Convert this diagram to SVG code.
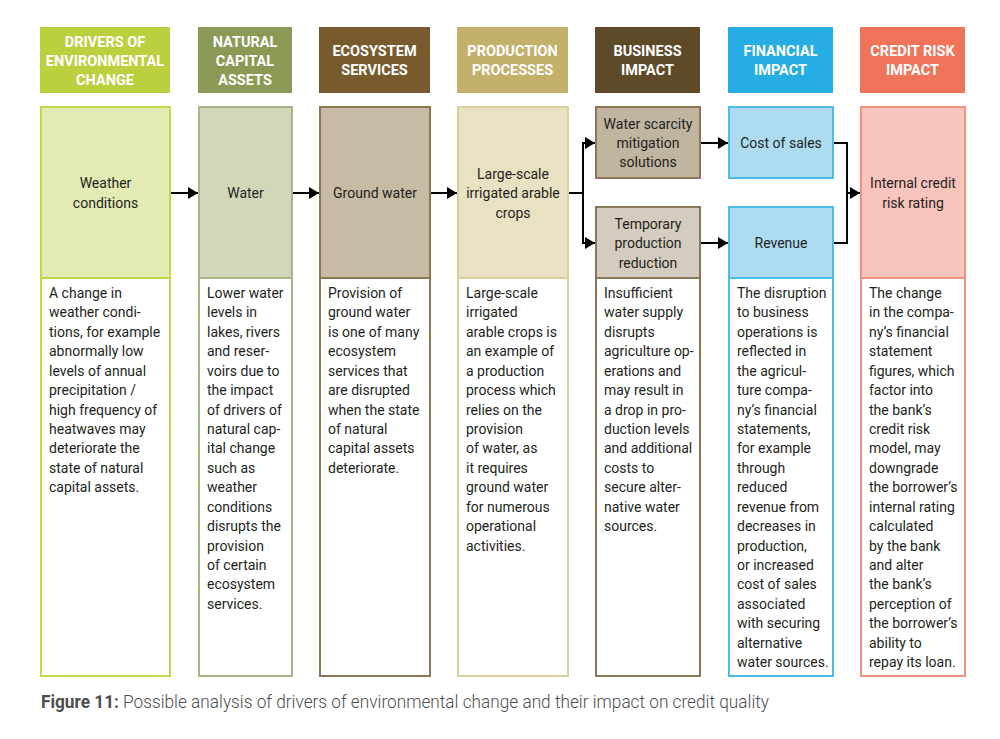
<svg xmlns="http://www.w3.org/2000/svg" width="1000" height="739" viewBox="0 0 1000 739">
<style>
.hd{font-family:Roboto,"Liberation Sans",sans-serif;font-weight:700;font-size:14.5px;fill:#fff;text-anchor:middle}
.lb{font-family:Roboto,"Liberation Sans",sans-serif;font-size:14px;fill:#231f20;text-anchor:middle}
.bd{font-family:Roboto,"Liberation Sans",sans-serif;font-size:14px;fill:#231f20}
.cap{font-family:Roboto,"Liberation Sans",sans-serif;font-size:18px;fill:#4d4d4d;font-weight:300}
.conn{fill:none;stroke:#000;stroke-width:2}
</style>
<defs>
<marker id="ah" viewBox="0 0 10 12" refX="10" refY="6" markerWidth="10" markerHeight="12" markerUnits="userSpaceOnUse" orient="auto">
<path d="M0,0 L10,6 L0,12 Z" fill="#000"/>
</marker>
</defs>
<rect width="1000" height="739" fill="#fff"/>

<g id="col1">
<rect x="40" y="27" width="130" height="66" fill="#bcd03f"/>
<text class="hd"><tspan x="105" y="47">DRIVERS OF</tspan><tspan x="105" y="66">ENVIRONMENTAL</tspan><tspan x="105" y="85">CHANGE</tspan></text>
<rect x="41" y="107" width="129" height="569" fill="#fff" stroke="#c3d64a" stroke-width="2"/>
<rect x="41" y="107" width="129" height="171" fill="#e4eab3" stroke="#c3d64a" stroke-width="2"/>
<text class="lb"><tspan x="105.5" y="188">Weather</tspan><tspan x="105.5" y="208">conditions</tspan></text>
<text class="bd"><tspan x="49" y="298">A change in</tspan><tspan x="49" y="317.4">weather condi-</tspan><tspan x="49" y="336.8">tions, for example</tspan><tspan x="49" y="356.3">abnormally low</tspan><tspan x="49" y="375.7">levels of annual</tspan><tspan x="49" y="395.1">precipitation /</tspan><tspan x="49" y="414.5">high frequency of</tspan><tspan x="49" y="434">heatwaves may</tspan><tspan x="49" y="453.4">deteriorate the</tspan><tspan x="49" y="472.8">state of natural</tspan><tspan x="49" y="492.2">capital assets.</tspan></text>
</g>

<g id="col2">
<rect x="198" y="27" width="94" height="66" fill="#8a9a55"/>
<text class="hd"><tspan x="245" y="47">NATURAL</tspan><tspan x="245" y="66">CAPITAL</tspan><tspan x="245" y="85">ASSETS</tspan></text>
<rect x="199" y="107" width="93" height="569" fill="#fff" stroke="#a8b588" stroke-width="2"/>
<rect x="199" y="107" width="93" height="171" fill="#d1d8ba" stroke="#a8b588" stroke-width="2"/>
<text class="lb" x="245.5" y="198">Water</text>
<text class="bd"><tspan x="207" y="298">Lower water</tspan><tspan x="207" y="317.4">levels in</tspan><tspan x="207" y="336.8">lakes, rivers</tspan><tspan x="207" y="356.3">and reser-</tspan><tspan x="207" y="375.7">voirs due to</tspan><tspan x="207" y="395.1">the impact</tspan><tspan x="207" y="414.5">of drivers of</tspan><tspan x="207" y="434">natural cap-</tspan><tspan x="207" y="453.4">ital change</tspan><tspan x="207" y="472.8">such as</tspan><tspan x="207" y="492.2">weather</tspan><tspan x="207" y="511.6">conditions</tspan><tspan x="207" y="531">disrupts the</tspan><tspan x="207" y="550.5">provision</tspan><tspan x="207" y="569.9">of certain</tspan><tspan x="207" y="589.3">ecosystem</tspan><tspan x="207" y="608.7">services.</tspan></text>
</g>

<g id="col3">
<rect x="319" y="27" width="111" height="66" fill="#775b2c"/>
<text class="hd"><tspan x="374.5" y="56">ECOSYSTEM</tspan><tspan x="374.5" y="75">SERVICES</tspan></text>
<rect x="320" y="107" width="110" height="569" fill="#fff" stroke="#8c7653" stroke-width="2"/>
<rect x="320" y="107" width="110" height="171" fill="#c7bba5" stroke="#8c7653" stroke-width="2"/>
<text class="lb" x="375" y="198">Ground water</text>
<text class="bd"><tspan x="328" y="298">Provision of</tspan><tspan x="328" y="317.4">ground water</tspan><tspan x="328" y="336.8">is one of many</tspan><tspan x="328" y="356.3">ecosystem</tspan><tspan x="328" y="375.7">services that</tspan><tspan x="328" y="395.1">are disrupted</tspan><tspan x="328" y="414.5">when the state</tspan><tspan x="328" y="434">of natural</tspan><tspan x="328" y="453.4">capital assets</tspan><tspan x="328" y="472.8">deteriorate.</tspan></text>
</g>

<g id="col4">
<rect x="457" y="27" width="111" height="66" fill="#c2b06b"/>
<text class="hd"><tspan x="512.5" y="56">PRODUCTION</tspan><tspan x="512.5" y="75">PROCESSES</tspan></text>
<rect x="458" y="107" width="110" height="569" fill="#fff" stroke="#d9cf9f" stroke-width="2"/>
<rect x="458" y="107" width="110" height="171" fill="#e8e2c3" stroke="#d9cf9f" stroke-width="2"/>
<text class="lb"><tspan x="513" y="179">Large-scale</tspan><tspan x="513" y="198">irrigated arable</tspan><tspan x="513" y="218">crops</tspan></text>
<text class="bd"><tspan x="466" y="298">Large-scale</tspan><tspan x="466" y="317.4">irrigated</tspan><tspan x="466" y="336.8">arable crops is</tspan><tspan x="466" y="356.3">an example of</tspan><tspan x="466" y="375.7">a production</tspan><tspan x="466" y="395.1">process which</tspan><tspan x="466" y="414.5">relies on the</tspan><tspan x="466" y="434">provision</tspan><tspan x="466" y="453.4">of water, as</tspan><tspan x="466" y="472.8">it requires</tspan><tspan x="466" y="492.2">ground water</tspan><tspan x="466" y="511.6">for numerous</tspan><tspan x="466" y="531">operational</tspan><tspan x="466" y="550.5">activities.</tspan></text>
</g>

<g id="col5">
<rect x="595" y="27" width="105" height="66" fill="#5e4a29"/>
<text class="hd"><tspan x="647.5" y="56">BUSINESS</tspan><tspan x="647.5" y="75">IMPACT</tspan></text>
<rect x="596" y="278" width="104" height="398" fill="#fff" stroke="#8c7653" stroke-width="2"/>
<text class="bd"><tspan x="604" y="298">Insufficient</tspan><tspan x="604" y="317.4">water supply</tspan><tspan x="604" y="336.8">disrupts</tspan><tspan x="604" y="356.3">agriculture op-</tspan><tspan x="604" y="375.7">erations and</tspan><tspan x="604" y="395.1">may result in</tspan><tspan x="604" y="414.5">a drop in pro-</tspan><tspan x="604" y="434">duction levels</tspan><tspan x="604" y="453.4">and additional</tspan><tspan x="604" y="472.8">costs to</tspan><tspan x="604" y="492.2">secure alter-</tspan><tspan x="604" y="511.6">native water</tspan><tspan x="604" y="531">sources.</tspan></text>
</g>
<g id="water-scarcity">
<rect x="596" y="107" width="104" height="71" fill="#c0b5a1" stroke="#8c7653" stroke-width="2"/>
<text class="lb"><tspan x="648" y="129">Water scarcity</tspan><tspan x="648" y="148">mitigation</tspan><tspan x="648" y="167">solutions</tspan></text>
</g>
<g id="temporary-reduction">
<rect x="596" y="207" width="104" height="71" fill="#d4cdbf" stroke="#8c7653" stroke-width="2"/>
<text class="lb"><tspan x="648" y="229">Temporary</tspan><tspan x="648" y="248">production</tspan><tspan x="648" y="268">reduction</tspan></text>
</g>

<g id="col6">
<rect x="728" y="27" width="105" height="66" fill="#26ade3"/>
<text class="hd"><tspan x="780.5" y="56">FINANCIAL</tspan><tspan x="780.5" y="75">IMPACT</tspan></text>
<rect x="729" y="278" width="104" height="398" fill="#fff" stroke="#4dbbe9" stroke-width="2"/>
<text class="bd"><tspan x="737" y="298">The disruption</tspan><tspan x="737" y="317.4">to business</tspan><tspan x="737" y="336.8">operations is</tspan><tspan x="737" y="356.3">reflected in</tspan><tspan x="737" y="375.7">the agricul-</tspan><tspan x="737" y="395.1">ture compa-</tspan><tspan x="737" y="414.5">ny’s financial</tspan><tspan x="737" y="434">statements,</tspan><tspan x="737" y="453.4">for example</tspan><tspan x="737" y="472.8">through</tspan><tspan x="737" y="492.2">reduced</tspan><tspan x="737" y="511.6">revenue from</tspan><tspan x="737" y="531">decreases in</tspan><tspan x="737" y="550.5">production,</tspan><tspan x="737" y="569.9">or increased</tspan><tspan x="737" y="589.3">cost of sales</tspan><tspan x="737" y="608.7">associated</tspan><tspan x="737" y="628.1">with securing</tspan><tspan x="737" y="647.5">alternative</tspan><tspan x="737" y="667">water sources.</tspan></text>
</g>
<g id="cost-of-sales">
<rect x="729" y="107" width="104" height="71" fill="#addcf1" stroke="#4dbbe9" stroke-width="2"/>
<text class="lb" x="781" y="148">Cost of sales</text>
</g>
<g id="revenue">
<rect x="729" y="207" width="104" height="71" fill="#addcf1" stroke="#4dbbe9" stroke-width="2"/>
<text class="lb" x="781" y="248">Revenue</text>
</g>

<g id="col7">
<rect x="860" y="27" width="105" height="66" fill="#ef745a"/>
<text class="hd"><tspan x="912.5" y="56">CREDIT RISK</tspan><tspan x="912.5" y="75">IMPACT</tspan></text>
<rect x="861" y="107" width="104" height="569" fill="#fff" stroke="#f1917f" stroke-width="2"/>
<rect x="861" y="107" width="104" height="171" fill="#f8c4bb" stroke="#f1917f" stroke-width="2"/>
<text class="lb"><tspan x="913" y="188">Internal credit</tspan><tspan x="913" y="208">risk rating</tspan></text>
<text class="bd"><tspan x="869" y="298">The change</tspan><tspan x="869" y="317.4">in the compa-</tspan><tspan x="869" y="336.8">ny’s financial</tspan><tspan x="869" y="356.3">statement</tspan><tspan x="869" y="375.7">figures, which</tspan><tspan x="869" y="395.1">factor into</tspan><tspan x="869" y="414.5">the bank’s</tspan><tspan x="869" y="434">credit risk</tspan><tspan x="869" y="453.4">model, may</tspan><tspan x="869" y="472.8">downgrade</tspan><tspan x="869" y="492.2">the borrower’s</tspan><tspan x="869" y="511.6">internal rating</tspan><tspan x="869" y="531">calculated</tspan><tspan x="869" y="550.5">by the bank</tspan><tspan x="869" y="569.9">and alter</tspan><tspan x="869" y="589.3">the bank’s</tspan><tspan x="869" y="608.7">perception of</tspan><tspan x="869" y="628.1">the borrower’s</tspan><tspan x="869" y="647.5">ability to</tspan><tspan x="869" y="667">repay its loan.</tspan></text>
</g>

<g id="connectors">
<line class="conn" x1="171" y1="193" x2="198" y2="193" marker-end="url(#ah)"/>
<line class="conn" x1="293" y1="193" x2="319" y2="193" marker-end="url(#ah)"/>
<line class="conn" x1="431" y1="193" x2="457" y2="193" marker-end="url(#ah)"/>
<polyline class="conn" points="569,193 583,193 583,143 595,143" marker-end="url(#ah)"/>
<polyline class="conn" points="583,193 583,243 595,243" marker-end="url(#ah)"/>
<line class="conn" x1="701" y1="143" x2="728" y2="143" marker-end="url(#ah)"/>
<line class="conn" x1="701" y1="243" x2="728" y2="243" marker-end="url(#ah)"/>
<polyline class="conn" points="834,143 847,143 847,243 834,243"/>
<line class="conn" x1="847" y1="193" x2="860" y2="193" marker-end="url(#ah)"/>
</g>

<text class="cap" x="41" y="708" textLength="728" lengthAdjust="spacingAndGlyphs"><tspan font-weight="700">Figure 11:</tspan> Possible analysis of drivers of environmental change and their impact on credit quality</text>
</svg>
